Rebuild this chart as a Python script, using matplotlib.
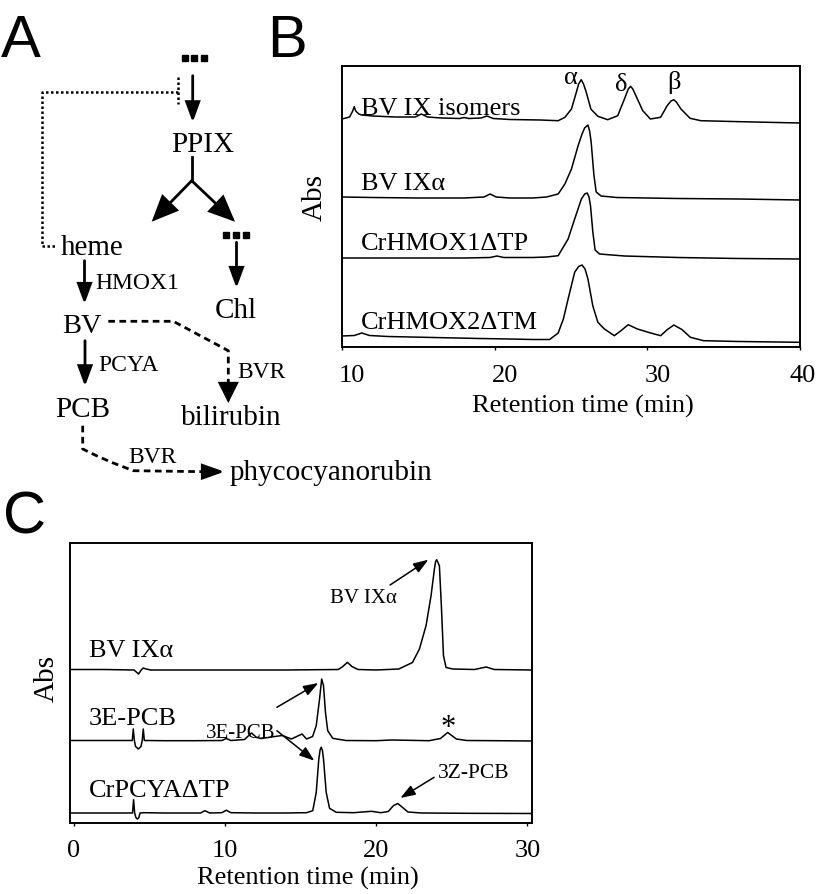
import matplotlib
matplotlib.use('Agg')
import matplotlib.pyplot as plt
import matplotlib.transforms as mtransforms
from matplotlib.patches import FancyArrowPatch

plt.rcParams['font.family'] = ['Liberation Serif', 'DejaVu Serif']

# ---------------- Panel B: HPLC traces (retention time, signal) ----------------
b_names = ['BV IX isomers', 'BV IXα', 'CrHMOX1ΔTP', 'CrHMOX2ΔTM']
b_ticks = [10, 20, 30, 40]

b_iso_t = [10.0, 10.5, 10.7, 10.8, 10.9, 11.1, 11.3, 12.0, 13.5, 14.8, 15.2, 15.6, 16.5, 17.7,
           18.0, 18.3, 19.1, 19.5, 19.9, 21.0, 23.0, 24.16, 24.6, 25.03, 25.35, 25.5, 25.67,
           25.82, 26.0, 26.3, 26.76, 27.4, 28.06, 28.5, 28.75, 28.9, 29.05, 29.25, 29.7, 30.2,
           30.87, 31.3, 31.55, 31.73, 31.9, 32.2, 32.8, 33.5, 36.1, 40.0]
b_iso_v = [228, 230, 236, 240.3, 236, 233, 232, 231, 230, 230, 233, 230, 229, 228.5,
           229.5, 228.5, 229, 231, 228.5, 227.5, 227, 226.3, 229.7, 238, 254.7, 263, 267.3,
           263, 254.7, 238, 230.7, 227.3, 231.3, 248, 258, 260.7, 258, 251.3, 236.3, 228,
           229.7, 241.3, 246, 247.3, 245, 238, 228.7, 226.3, 225.3, 224]

b_alpha_t = [10.0, 12, 15, 18, 19.3, 19.7, 20.1, 21, 22.5, 23.4, 24.16, 24.6, 25.03, 25.46,
             25.7, 25.89, 26.11, 26.22, 26.32, 26.5, 26.65, 26.97, 28, 32, 36, 40]
b_alpha_v = [150, 149.5, 149, 149, 150, 153, 150, 149, 149, 150, 153, 163, 178, 201,
             212, 219, 222, 216, 205, 172, 155, 151, 149.5, 148.5, 148, 147]

b_hmox1_t = [10.0, 12, 15, 18, 19.7, 20.15, 20.6, 22.5, 23.4, 24.16, 24.81, 25.24, 25.68,
             25.9, 26.06, 26.18, 26.28, 26.43, 26.58, 26.87, 28.5, 32, 36, 40]
b_hmox1_v = [89, 89, 89, 89, 89.5, 91, 89.5, 89.5, 90, 91.3, 108, 128, 148,
             153, 154, 150, 141, 115, 97, 93, 91, 89.5, 88.5, 88]

b_hmox2_t = [10.0, 10.8, 11.3, 11.8, 13, 16, 19, 21, 22.5, 23.6, 24.16, 24.5, 24.81, 25.24,
             25.5, 25.72, 25.92, 26.11, 26.43, 26.76, 27.19, 27.84, 28.27, 28.75, 29.35, 30.22,
             30.87, 31.3, 31.74, 32.28, 32.82, 33.68, 36, 40]
b_hmox2_v = [11, 11.5, 14, 11.5, 10.5, 9.5, 8.5, 8, 7.5, 7.5, 14, 28, 48, 74.7,
             80.5, 82, 78, 68, 41, 24.7, 18, 11.3, 16.3, 22.3, 18, 14,
             11.3, 17.3, 22, 17.3, 9.7, 6.3, 5.5, 4.7]

# isomer letters over the peaks
b_iso_letters = ['α', 'δ', 'β']
b_iso_letter_t = [25.02, 28.31, 31.77]

# ---------------- Panel C: HPLC traces ----------------
c_names = ['BV IXα', '3E-PCB', 'CrPCYAΔTP']
c_ticks = [0, 10, 20, 30]

c_bv_t = [-0.2, 2.0, 4.0, 4.15, 4.3, 4.45, 4.6, 4.8, 5.1, 7, 10, 14, 17.5, 17.8, 18.1, 18.4,
          18.8, 20, 21.5, 22.4, 22.86, 23.3, 23.63, 23.85, 23.93, 24.0, 24.18, 24.31, 24.45,
          24.62, 25.06, 26.5, 27.27, 27.8, 30.3]
c_bv_v = [153, 153, 152.5, 150.5, 148.5, 152, 154.5, 153.5, 152.5, 152.5, 152.5, 152.5, 153,
          156, 160.2, 156, 153, 152.5, 153.5, 160, 173.5, 197, 227, 253.5, 261, 262.8, 256.8,
          216.8, 166.8, 155, 153.5, 153, 155.5, 153, 152.5]

c_pcb_t = [-0.2, 2, 3.88, 3.95, 4.02, 4.1, 4.28, 4.46, 4.54, 4.61, 4.68, 4.8, 6, 8, 9.8, 10.1,
           10.4, 11.3, 11.76, 12.1, 12.4, 13.3, 13.8, 14.4, 15.1, 15.4, 15.8, 16.04, 16.26,
           16.4, 16.52, 16.65, 16.8, 17.13, 18, 20, 21, 23.5, 24.25, 24.73, 25.3, 26, 28, 30.3]
c_pcb_v = [82, 82, 82, 93.5, 82, 76, 73.5, 76, 82, 93.5, 82, 82, 81.8, 81.8, 82, 84,
           82, 83, 89.5, 85, 84, 86, 87, 83.5, 88.5, 83.5, 86, 96.8, 123.5,
           143.5, 137, 110, 91.8, 84.2, 82, 81.8, 82.5, 81.8, 84, 90, 83.5, 82, 81.8, 81.5]

c_pcya_t = [-0.2, 2, 3.9, 3.97, 4.04, 4.12, 4.22, 4.32, 4.4, 4.6, 6, 8.4, 8.68, 9.0, 9.8, 10.1,
            10.4, 12, 14, 15.4, 15.81, 16.04, 16.21, 16.3, 16.37, 16.45, 16.52, 16.7, 16.92,
            17.36, 18.5, 19.7, 20.3, 20.8, 21.15, 21.43, 21.75, 22.1, 23, 26, 30.3]
c_pcya_v = [9.5, 9.5, 9.5, 22.8, 9.5, 5, 3.5, 5, 9.5, 9.8, 9.5, 9.5, 11.8, 9.5, 9.8, 12.3,
            9.8, 9.5, 9.5, 9.8, 11.8, 30, 63.5, 73, 75.2, 72, 63.5, 30, 14.2,
            10.2, 9.8, 11.2, 9.8, 11, 17, 19, 15, 10.5, 9.5, 9.2, 9]

# ---------------- figure ----------------
fig = plt.figure(figsize=(8.2, 8.95), dpi=100)
fig.patch.set_facecolor('white')

# full-figure axes in pixel units for the pathway scheme (panel A) and panel letters
axA = fig.add_axes([0, 0, 1, 1])
axA.set_xlim(0, 820)
axA.set_ylim(895, 0)
axA.axis('off')


def arrow(p0, p1, hl=12, hw=4.4, lw=2.0):
    a = FancyArrowPatch(p0, p1, arrowstyle='-|>,head_length=%g,head_width=%g' % (hl, hw),
                        mutation_scale=1, lw=lw, color='k', shrinkA=0, shrinkB=0,
                        joinstyle='miter')
    axA.add_patch(a)


dash = (0, (2.4, 1.6))
dot = (0, (1, 1))

# dots above PPIX and above Chl
axA.plot([185, 194.3, 204.2], [59, 59, 59], 's', color='k', ms=4)
axA.plot([226.5, 236, 246.5], [235.5, 235.5, 235.5], 's', color='k', ms=4)

# feedback inhibition (heme -| step before PPIX)
axA.plot([177.7, 177.7], [78, 105], color='k', lw=1.8, ls=dot)
axA.plot([177.7, 41.7, 41.7, 55], [93.3, 93.3, 246.7, 246.7], color='k', lw=1.8, ls=dot)

arrow((192.7, 76.7), (192.7, 123.3))
axA.plot([191.7, 191.7], [158.3, 181.7], color='k', lw=2.0)
arrow((191.7, 181.7), (151.7, 222.7), hl=16, hw=7)
arrow((191.7, 181.7), (235, 222.7), hl=16, hw=7)
arrow((236.5, 243.3), (236.5, 289))
arrow((84.5, 261.7), (84.5, 305))
arrow((85, 341.7), (85, 387.3))

# BV -> bilirubin (dashed)
axA.plot([108.3, 173.3, 228.3, 228.3], [322.3, 322.3, 351.7, 386], color='k', lw=2.0, ls=dash)
arrow((228.3, 384), (228.3, 404), hl=12, hw=6)
# PCB -> phycocyanorubin (dashed)
axA.plot([82.7, 82.7, 96, 112, 133.3, 205], [426.7, 450, 456.5, 463.5, 471.7, 472.7],
         color='k', lw=2.0, ls=dash)
arrow((203, 472.7), (224.5, 472.7), hl=13, hw=4.6)

big = 21
small = 17
axA.text(202.3, 151.7, 'PPIX', fontsize=big, ha='center', va='baseline')
axA.text(92.5, 255, 'heme', fontsize=big, ha='center', va='baseline')
axA.text(236.2, 318.3, 'Chl', fontsize=big, ha='center', va='baseline')
axA.text(81.7, 333.3, 'BV', fontsize=20.5, ha='center', va='baseline')
axA.text(82.5, 416.7, 'PCB', fontsize=big, ha='center', va='baseline')
axA.text(230.8, 425, 'bilirubin', fontsize=big, ha='center', va='baseline')
axA.text(230, 480, 'phycocyanorubin', fontsize=big, ha='left', va='baseline')
axA.text(95, 289, 'HMOX1', fontsize=small, ha='left', va='baseline')
axA.text(98.3, 370.7, 'PCYA', fontsize=small, ha='left', va='baseline')
axA.text(237.3, 378.3, 'BVR', fontsize=small, ha='left', va='baseline')
axA.text(128.3, 463.3, 'BVR', fontsize=small, ha='left', va='baseline')

# panel letters
for s, x, y in [('A', 0.5, 56.7), ('B', 267, 56.7), ('C', 3, 533)]:
    axA.text(x, y, s, fontsize=43, family='Liberation Sans', ha='left', va='baseline')

# ---------------- panel B axes ----------------
axB = fig.add_axes([342 / 820, 1 - 348 / 895, 458 / 820, 281 / 895])
axB.set_facecolor('none')
for t, v in [(b_iso_t, b_iso_v), (b_alpha_t, b_alpha_v), (b_hmox1_t, b_hmox1_v),
             (b_hmox2_t, b_hmox2_v)]:
    axB.plot(t, v, color='k', lw=1.1)
axB.set_xlim(10, 40)
axB.set_ylim(0, 281)
axB.set_yticks([])
axB.set_xticks(b_ticks)
axB.tick_params(axis='x', direction='out', length=2, width=1, pad=10, labelsize=19)
for sp in axB.spines.values():
    sp.set_linewidth(1.4)
# tick labels in the original sit a little right of their ticks
for lab, dx in zip(axB.get_xticklabels(), [0.1, 0.1, 0.1, 0.03]):
    lab.set_transform(lab.get_transform() +
                      mtransforms.ScaledTranslation(dx, 0, fig.dpi_scale_trans))

for name, y in zip(b_names, [233, 158, 98, 18.7]):
    axB.text(11.23, y, name, fontsize=19, ha='left', va='baseline')
for s, t, y in zip(b_iso_letters, b_iso_letter_t, [264, 257.3, 259]):
    axB.text(t, y, s, fontsize=19, ha='center', va='baseline')

axB.set_xlabel('Retention time (min)', fontsize=19)
axB.xaxis.set_label_coords(0.525, -0.1673)
axB.set_ylabel('Abs', fontsize=21)
axB.yaxis.set_label_coords(-0.06, 0.534)
axB.yaxis.label.set_va('center')

# ---------------- panel C axes ----------------
axC = fig.add_axes([70.5 / 820, 1 - 823.5 / 895, 461.5 / 820, 280 / 895])
axC.set_facecolor('none')
for t, v in [(c_bv_t, c_bv_v), (c_pcb_t, c_pcb_v), (c_pcya_t, c_pcya_v)]:
    axC.plot(t, v, color='k', lw=1.1)
axC.set_xlim(-0.2, 30.3)
axC.set_ylim(0, 280)
axC.set_yticks([])
axC.set_xticks(c_ticks)
axC.tick_params(axis='x', direction='out', length=2, width=1, pad=10, labelsize=19)
for sp in axC.spines.values():
    sp.set_linewidth(1.4)

for name, y in zip(c_names, [166.8, 98.5, 26.8]):
    axC.text(1.0, y, name, fontsize=19, ha='left', va='baseline')

# peak annotations
akw = dict(arrowstyle='-|>,head_length=9,head_width=3.2', lw=1.1, color='k',
           shrinkA=0, shrinkB=0, mutation_scale=1)
axC.text(19.13, 220.5, 'BV IXα', fontsize=15, ha='center', va='baseline')
axC.annotate('', xy=(23.45, 262.8), xytext=(20.92, 237.5), arrowprops=akw)
axC.text(11.07, 85.2, '3E-PCB', fontsize=15, ha='center', va='baseline')
axC.annotate('', xy=(16.18, 139.5), xytext=(13.44, 115.2), arrowprops=akw)
axC.annotate('', xy=(15.91, 61.8), xytext=(13.44, 91.8), arrowprops=akw)
axC.text(26.43, 45.2, '3Z-PCB', fontsize=15.5, ha='center', va='baseline')
axC.annotate('', xy=(21.6, 24.5), xytext=(23.83, 45.2), arrowprops=akw)
axC.text(24.77, 87.7, '*', fontsize=22, ha='center', va='baseline')

axC.set_xlabel('Retention time (min)', fontsize=19)
axC.xaxis.set_label_coords(0.5146, -0.1543)
axC.set_ylabel('Abs', fontsize=21)
axC.yaxis.set_label_coords(-0.0522, 0.5186)
axC.yaxis.label.set_va('center')

fig.savefig('out.png', dpi=100)
